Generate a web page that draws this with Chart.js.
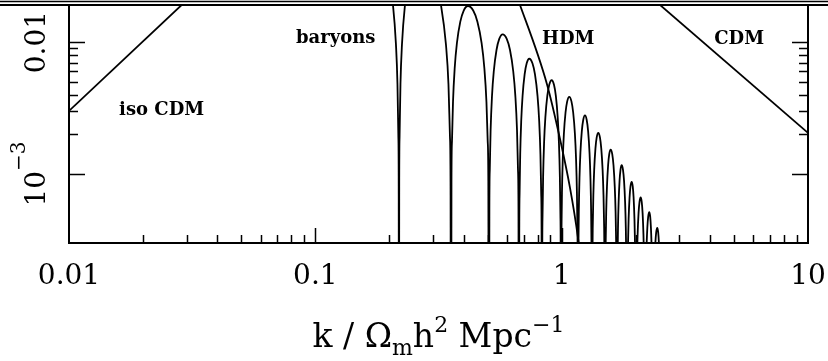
<!DOCTYPE html>
<html>
<head>
<meta charset="utf-8">
<title>Transfer functions</title>
<script src="https://cdn.jsdelivr.net/npm/chart.js@4.4.1/dist/chart.umd.min.js"></script>
<style>
    html, body { margin: 0; padding: 0; background: #fff; }
    #wrap { width: 828px; height: 361px; }
</style>
</head>
<body>
<div id="wrap"><canvas id="chart" width="828" height="361"></canvas></div>
<script>
// Values (k in Omega_m h^2 Mpc^-1, log-log axes)
const isoK = [0.01, 0.0340];
const isoT = [0.00301, 0.0258];

const cdmK = [2.079, 10];
const cdmT = [0.0259, 0.00205];

const hdmK = [0.5886, 0.6772, 0.8716, 0.9842, 1.0807, 1.1646, 1.2203];
const hdmT = [0.0378, 0.01912, 0.00480, 0.00185, 0.000788, 0.00033, 0.000161];

// baryon curve: one arch per line, 1e-6 marks a node (far below the axis)
const baryonK = [
    0.17461, 0.19352, 0.20661, 0.21248, 0.21548, 0.21731, 0.21802, 0.21853,
    0.21904, 0.21976, 0.22161, 0.22474, 0.23113, 0.24447, 0.27865, 0.30028,
    0.32360, 0.33908, 0.34710, 0.35200, 0.35398, 0.35530,
    0.35700, 0.35870, 0.36214, 0.36794, 0.37562, 0.38775, 0.40027, 0.41651, 0.43745, 0.45497, 0.47319, 0.48542, 0.49504, 0.50091, 0.50386, 0.50684,
    0.50879, 0.51075, 0.51469, 0.52132, 0.53007, 0.54383, 0.55794, 0.57608, 0.59844, 0.61696, 0.63605, 0.64877, 0.65874, 0.66479, 0.66783, 0.67089,
    0.67283, 0.67478, 0.67869, 0.68525, 0.69388, 0.70737, 0.72113, 0.73870, 0.76097, 0.77925, 0.79798, 0.81039, 0.82006, 0.82593, 0.82887, 0.83183,
    0.83410, 0.83637, 0.84093, 0.84859, 0.85865, 0.87437, 0.89037, 0.91075, 0.93077, 0.94710, 0.96371, 0.97466, 0.98317, 0.98831, 0.99089, 0.99348,
    0.99580, 0.99812, 1.00277, 1.01058, 1.02083, 1.03679, 1.05300, 1.07363, 1.09567, 1.11364, 1.13190, 1.14393, 1.15327, 1.15891, 1.16174, 1.16458,
    1.16687, 1.16916, 1.17376, 1.18147, 1.19156, 1.20726, 1.22316, 1.24334, 1.26384, 1.28049, 1.29736, 1.30844, 1.31703, 1.32221, 1.32481, 1.32741,
    1.32976, 1.33211, 1.33682, 1.34472, 1.35505, 1.37111, 1.38735, 1.40793, 1.43015, 1.44818, 1.46643, 1.47842, 1.48771, 1.49331, 1.49612, 1.49893,
    1.50133, 1.50373, 1.50854, 1.51660, 1.52715, 1.54351, 1.56004, 1.58096, 1.60440, 1.62341, 1.64264, 1.65527, 1.66504, 1.67094, 1.67389, 1.67685,
    1.67906, 1.68128, 1.68571, 1.69314, 1.70283, 1.71786, 1.73302, 1.75217, 1.77400, 1.79167, 1.80951, 1.82120, 1.83025, 1.83569, 1.83843, 1.84116,
    1.84359, 1.84602, 1.85089, 1.85904, 1.86969, 1.88619, 1.90284, 1.92385, 1.94329, 1.95897, 1.97478, 1.98513, 1.99313, 1.99794, 2.00035, 2.00276,
    2.00540, 2.00805, 2.01335, 2.02221, 2.03380, 2.05174, 2.06985, 2.09270, 2.11384, 2.13090, 2.14810, 2.15935, 2.16805, 2.17328, 2.17591, 2.17853,
    2.18116, 2.18379, 2.18906, 2.19788, 2.20939, 2.22723, 2.24520, 2.26788, 2.28758, 2.30347, 2.31945, 2.32990, 2.33798, 2.34283, 2.34527, 2.34770,
    2.35053, 2.35337, 2.35905, 2.36855, 2.38096, 2.40018, 2.41955, 2.44398, 2.46521, 2.48233, 2.49956, 2.51082, 2.51952, 2.52476, 2.52738, 2.53000
];
const baryonT = [
    0.0748, 0.0412, 0.01912, 0.00957, 0.00480, 0.00191, 0.000801, 1e-6,
    0.000801, 0.00191, 0.00480, 0.00957, 0.01912, 0.0382, 0.0489, 0.0344,
    0.01912, 0.00957, 0.00480, 0.00191, 0.000752, 1e-6,
    0.000885, 0.001768, 0.003521, 0.006365, 0.009818, 0.014288, 0.017360, 0.01879, 0.017360, 0.014288, 0.009818, 0.006365, 0.003521, 0.001768, 0.000885, 1e-6,
    0.000540, 0.001078, 0.002147, 0.003882, 0.005988, 0.008714, 0.010588, 0.01146, 0.010588, 0.008714, 0.005988, 0.003882, 0.002147, 0.001078, 0.000540, 1e-6,
    0.000352, 0.000704, 0.001402, 0.002534, 0.003908, 0.005688, 0.006911, 0.00748, 0.006911, 0.005688, 0.003908, 0.002534, 0.001402, 0.000704, 0.000352, 1e-6,
    0.000242, 0.000484, 0.000963, 0.001741, 0.002686, 0.003908, 0.004749, 0.00514, 0.004749, 0.003908, 0.002686, 0.001741, 0.000963, 0.000484, 0.000242, 1e-6,
    0.000181, 0.000362, 0.000721, 0.001304, 0.002012, 0.002928, 0.003557, 0.00385, 0.003557, 0.002928, 0.002012, 0.001304, 0.000721, 0.000362, 0.000181, 1e-6,
    0.000131, 0.000262, 0.000521, 0.000942, 0.001453, 0.002114, 0.002568, 0.00278, 0.002568, 0.002114, 0.001453, 0.000942, 0.000521, 0.000262, 0.000131, 1e-6,
    0.0000966, 0.000193, 0.000384, 0.000694, 0.001071, 0.001559, 0.001894, 0.00205, 0.001894, 0.001559, 0.001071, 0.000694, 0.000384, 0.000193, 0.0000966, 1e-6,
    0.0000722, 0.000144, 0.000287, 0.000519, 0.000800, 0.001165, 0.001415, 0.001532, 0.001415, 0.001165, 0.000800, 0.000519, 0.000287, 0.000144, 0.0000722, 1e-6,
    0.0000549, 0.00011, 0.000218, 0.000395, 0.000609, 0.000887, 0.001077, 0.001166, 0.001077, 0.000887, 0.000609, 0.000395, 0.000218, 0.00011, 0.0000549, 1e-6,
    0.0000411, 0.0000821, 0.000163, 0.000295, 0.000456, 0.000663, 0.000806, 0.000872, 0.000806, 0.000663, 0.000456, 0.000295, 0.000163, 0.0000821, 0.0000411, 1e-6,
    0.0000313, 0.0000625, 0.000124, 0.000225, 0.000347, 0.000505, 0.000613, 0.000664, 0.000613, 0.000505, 0.000347, 0.000225, 0.000124, 0.0000625, 0.0000313, 1e-6,
    0.0000242, 0.0000484, 0.0000963, 0.000174, 0.000269, 0.000391, 0.000475, 0.000514, 0.000475, 0.000391, 0.000269, 0.000174, 0.0000963, 0.0000484, 0.0000242, 1e-6,
    0.0000184, 0.0000368, 0.0000733, 0.000132, 0.000204, 0.000297, 0.000361, 0.000391, 0.000361, 0.000297, 0.000204, 0.000132, 0.0000733, 0.0000368, 0.0000184, 1e-6
];

// axis range and tick labels
const xRange = [0.01, 10];
const yRange = [3.30e-4, 0.01912];
const xTickValues = [0.01, 0.1, 1, 10];
const xTickLabels = ['0.01', '0.1', '1', '10'];
const yTickValues = [0.001, 0.01];
const yTickBase = ['10', '0.01'];
const yTickExp = ['\u22123', ''];

// curve labels, anchored at (k, value) of their baseline centre
const curveLabels = ['iso CDM', 'baryons', 'HDM', 'CDM'];
const curveLabelK = [0.02377, 0.12101, 1.0636, 5.2550];
const curveLabelT = [0.002783, 0.009831, 0.009665, 0.009665];

// axis title pieces: [text, 0 normal / -1 subscript / 1 superscript]
const xTitle = [['k / \u03A9', 0], ['m', -1], ['h', 0], ['2', 1], [' Mpc', 0], ['\u22121', 1]];

const SERIF = '"DejaVu Serif", "Liberation Serif", serif';

function toPoints(ks, ts) {
    return ks.map((k, i) => ({ x: k, y: ts[i] }));
}

function curve(ks, ts, smooth) {
    return {
        data: toPoints(ks, ts),
        borderColor: '#000',
        borderWidth: 1.8,
        pointRadius: 0,
        fill: false,
        tension: 0,
        cubicInterpolationMode: smooth ? 'monotone' : 'default',
        clip: 0
    };
}

// frame, inward ticks, tick labels, titles and curve labels
const framePlugin = {
    id: 'framePlugin',
    afterDatasetsDraw(chart) {
        const { ctx, chartArea: a, scales: { x, y } } = chart;
        ctx.save();
        ctx.strokeStyle = '#000';
        ctx.fillStyle = '#000';

        // rules across the top of the page
        ctx.lineWidth = 1.5;
        ctx.beginPath();
        ctx.moveTo(0, 1.5);
        ctx.lineTo(chart.width, 1.5);
        ctx.stroke();
        ctx.lineWidth = 2;
        ctx.beginPath();
        ctx.moveTo(0, a.top);
        ctx.lineTo(chart.width, a.top);
        ctx.stroke();

        ctx.strokeRect(a.left, a.top, a.right - a.left, a.bottom - a.top);

        // minor and major ticks pointing into the plot
        ctx.lineWidth = 1.5;
        ctx.beginPath();
        for (let e = -3; e <= 1; e++) {
            for (let m = 1; m <= 9; m++) {
                const v = m * Math.pow(10, e);
                if (v > xRange[0] * 1.001 && v < xRange[1] * 0.999) {
                    const px = Math.round(x.getPixelForValue(v)) + 0.5;
                    ctx.moveTo(px, a.bottom);
                    ctx.lineTo(px, a.bottom - (m === 1 ? 15 : 8));
                }
                if (v > yRange[0] && v < yRange[1]) {
                    const py = Math.round(y.getPixelForValue(v)) + 0.5;
                    const ylen = m === 1 ? 16 : 9;
                    ctx.moveTo(a.left, py);
                    ctx.lineTo(a.left + ylen, py);
                    ctx.moveTo(a.right, py);
                    ctx.lineTo(a.right - ylen, py);
                }
            }
        }
        ctx.stroke();

        // x tick labels
        ctx.font = '28px ' + SERIF;
        ctx.textAlign = 'center';
        ctx.textBaseline = 'alphabetic';
        xTickValues.forEach((v, i) => {
            ctx.fillText(xTickLabels[i], x.getPixelForValue(v), a.bottom + 41);
        });

        // y tick labels, rotated
        yTickValues.forEach((v, i) => {
            ctx.save();
            ctx.translate(a.left - 24, y.getPixelForValue(v));
            ctx.rotate(-Math.PI / 2);
            ctx.textAlign = 'left';
            ctx.font = '28px ' + SERIF;
            const wBase = ctx.measureText(yTickBase[i]).width;
            ctx.font = '20px ' + SERIF;
            const wExp = yTickExp[i] ? ctx.measureText(yTickExp[i]).width : 0;
            const start = -(wBase + wExp) / 2;
            ctx.font = '28px ' + SERIF;
            ctx.fillText(yTickBase[i], start, 0);
            if (wExp) {
                ctx.font = '20px ' + SERIF;
                ctx.fillText(yTickExp[i], start + wBase, -20);
            }
            ctx.restore();
        });

        // x axis title with sub/superscripts
        const sizes = { 0: 33, '-1': 22, 1: 22 };
        const shift = { 0: 0, '-1': 8, 1: -15 };
        let total = 0;
        xTitle.forEach(([t, s]) => {
            ctx.font = sizes[s] + 'px ' + SERIF;
            total += ctx.measureText(t).width;
        });
        let tx = (a.left + a.right) / 2 - total / 2;
        ctx.textAlign = 'left';
        xTitle.forEach(([t, s]) => {
            ctx.font = sizes[s] + 'px ' + SERIF;
            ctx.fillText(t, tx, 347 + shift[s]);
            tx += ctx.measureText(t).width;
        });

        // curve names
        ctx.font = 'bold 18px ' + SERIF;
        ctx.textAlign = 'center';
        curveLabels.forEach((t, i) => {
            ctx.fillText(t, x.getPixelForValue(curveLabelK[i]), y.getPixelForValue(curveLabelT[i]));
        });

        ctx.restore();
    }
};

new Chart(document.getElementById('chart'), {
    type: 'line',
    data: {
        datasets: [
            curve(isoK, isoT, false),
            curve(cdmK, cdmT, false),
            curve(hdmK, hdmT, true),
            curve(baryonK, baryonT, true)
        ]
    },
    options: {
        responsive: false,
        animation: false,
        layout: { padding: { left: 69, right: 20, top: 5, bottom: 118 } },
        elements: { line: { capBezierPoints: false } },
        plugins: {
            legend: { display: false },
            tooltip: { enabled: false }
        },
        scales: {
            x: { type: 'logarithmic', min: xRange[0], max: xRange[1], display: false },
            y: { type: 'logarithmic', min: yRange[0], max: yRange[1], display: false }
        }
    },
    plugins: [framePlugin]
});
</script>
</body>
</html>
